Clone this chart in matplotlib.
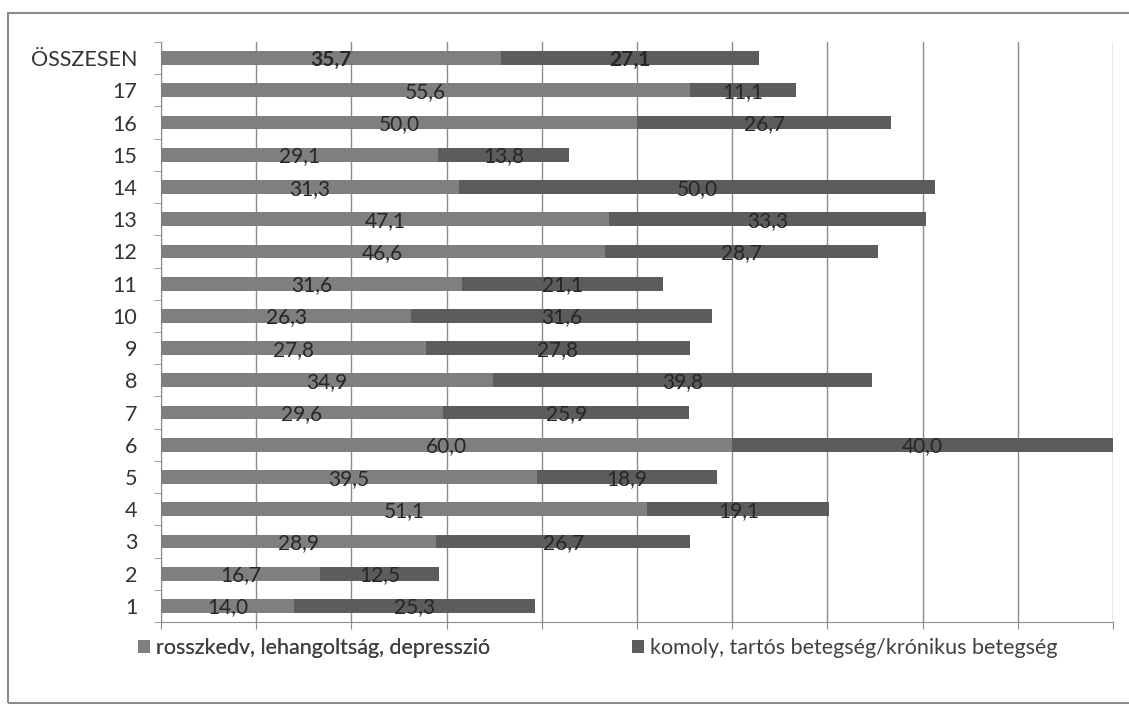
import numpy as np
import matplotlib
matplotlib.use("Agg")
import matplotlib.pyplot as plt
from matplotlib.patches import Rectangle

categories = ["1", "2", "3", "4", "5", "6", "7", "8", "9", "10", "11", "12",
              "13", "14", "15", "16", "17", "ÖSSZESEN"]
rosszkedv = [14.0, 16.7, 28.9, 51.1, 39.5, 60.0, 29.6, 34.9, 27.8, 26.3, 31.6,
             46.6, 47.1, 31.3, 29.1, 50.0, 55.6, 35.7]
komoly = [25.3, 12.5, 26.7, 19.1, 18.9, 40.0, 25.9, 39.8, 27.8, 31.6, 21.1,
          28.7, 33.3, 50.0, 13.8, 26.7, 11.1, 27.1]
series_names = ["rosszkedv, lehangoltság, depresszió",
                "komoly, tartós betegség/krónikus betegség"]

plt.rcParams["font.family"] = ["Lato", "DejaVu Sans"]

light = "#7f7f7f"
dark = "#5c5c5c"

fig = plt.figure(figsize=(11.29, 7.06), dpi=100)
ax = fig.add_axes([161 / 1129, 1 - 622 / 706, (1113 - 161) / 1129, (622 - 42) / 706])

# outer chart frame
fig.patches.append(Rectangle((8 / 1129, 3 / 706), 1.2, (703 - 13) / 706,
                             transform=fig.transFigure, fill=False,
                             edgecolor="#8c8c8c", linewidth=1.5))

y = np.arange(len(categories))
h = 0.43
b1 = ax.barh(y, rosszkedv, height=h, color=light, zorder=3)
b2 = ax.barh(y, komoly, left=rosszkedv, height=h, color=dark, zorder=3)

for i in range(len(categories)):
    bold = categories[i] == "ÖSSZESEN"
    ax.text(rosszkedv[i] / 2, y[i] - 0.05, f"{rosszkedv[i]:.1f}".replace(".", ","),
            ha="center", va="center", fontsize=15, color="#262626",
            fontweight="bold" if bold else "normal", zorder=4)
    ax.text(rosszkedv[i] + komoly[i] / 2, y[i] - 0.05, f"{komoly[i]:.1f}".replace(".", ","),
            ha="center", va="center", fontsize=15, color="#262626",
            fontweight="bold" if bold else "normal", zorder=4)

ax.set_xlim(0, 100)
ax.set_ylim(-0.5, len(categories) - 0.5)
ax.set_xticks(np.arange(0, 101, 10))
ax.set_xticklabels([])
ax.tick_params(axis="x", length=5, color="#8c8c8c")
ax.set_yticks(y)
ax.set_yticklabels(categories, fontsize=15.5, color="#333333")
ax.tick_params(axis="y", length=0, pad=17)
ax.set_yticks(np.arange(-0.5, len(categories), 1), minor=True)
ax.tick_params(axis="y", which="minor", length=5, color="#8c8c8c")
ax.grid(axis="x", color="#8c8c8c", linewidth=1, zorder=0)

for s in ["top", "right"]:
    ax.spines[s].set_visible(False)
for s in ["left", "bottom"]:
    ax.spines[s].set_color("#8c8c8c")

# two legend entries placed separately, like the original layout
leg_kw = dict(loc="center left", frameon=False, fontsize=15.5, handlelength=0.55,
              handleheight=0.55, handletextpad=0.3, borderpad=0, borderaxespad=0,
              labelcolor="#404040")
leg1 = fig.legend([b1], [series_names[0]], bbox_to_anchor=(138 / 1129, 1 - 648 / 706), **leg_kw)
fig.legend([b2], [series_names[1]], bbox_to_anchor=(632 / 1129, 1 - 648 / 706), **leg_kw)
fig.add_artist(leg1)

fig.savefig("out.png", dpi=100)
